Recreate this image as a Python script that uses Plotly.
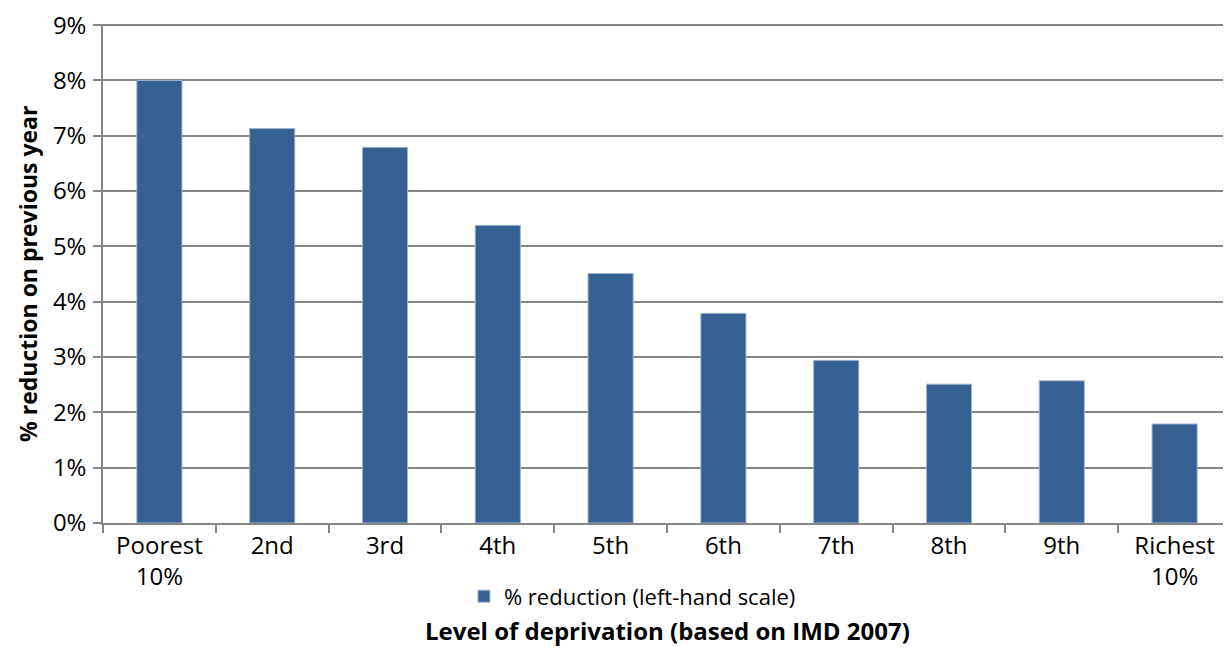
import plotly.graph_objects as go

categories = ["Poorest<br>10%", "2nd", "3rd", "4th", "5th", "6th", "7th", "8th", "9th", "Richest<br>10%"]
reduction_pct = [8.0, 7.13, 6.79, 5.38, 4.51, 3.79, 2.94, 2.51, 2.57, 1.79]
y_ticks = [0, 1, 2, 3, 4, 5, 6, 7, 8, 9]
y_tick_labels = [f"{v}%" for v in y_ticks]

FONT = "Open Sans, Noto Sans, sans-serif"

fig = go.Figure()
fig.add_trace(go.Bar(
    x=categories,
    y=reduction_pct,
    name="% reduction (left-hand scale)",
    marker=dict(color="#376092", line=dict(color="#9fb3cf", width=1)),
))

fig.update_layout(
    width=1223, height=640,
    margin=dict(l=95, r=0, t=14, b=125),
    paper_bgcolor="white", plot_bgcolor="white",
    bargap=0.6,
    font=dict(family=FONT, size=22, color="black"),
    showlegend=True,
    legend=dict(orientation="h", x=0.32, y=-0.105, xanchor="left", yanchor="top",
                font=dict(size=22, family=FONT), itemwidth=30, tracegroupgap=0),
    xaxis=dict(
        showgrid=False, showline=True, linecolor="#868686", linewidth=1.5,
        ticks="outside", ticklen=8, tickcolor="#868686", tickwidth=1.5,
        tickson="boundaries", tickfont=dict(size=24, family=FONT),
    ),
    yaxis=dict(
        range=[0, 9.02], tickvals=y_ticks, ticktext=y_tick_labels,
        showgrid=True, gridcolor="#868686", gridwidth=1.5,
        showline=True, linecolor="#868686", linewidth=1.5,
        ticks="outside", ticklen=8, tickcolor="#868686", tickwidth=1.5,
        tickfont=dict(size=24, family=FONT), zeroline=False,
        ticklabelstandoff=2, ticklabeloverflow="allow",
    ),
    annotations=[
        dict(text="<b>% reduction on previous year</b>", xref="paper", yref="paper",
             x=-0.067, y=0.5, xanchor="center", yanchor="middle", textangle=-90,
             showarrow=False, font=dict(size=23, family=FONT)),
        dict(text="<b>Level of deprivation (based on IMD 2007)</b>", xref="paper", yref="paper",
             x=0.5, y=-0.215, xanchor="center", yanchor="middle",
             showarrow=False, font=dict(size=24, family=FONT)),
    ],
)

fig.write_html("out.html")
